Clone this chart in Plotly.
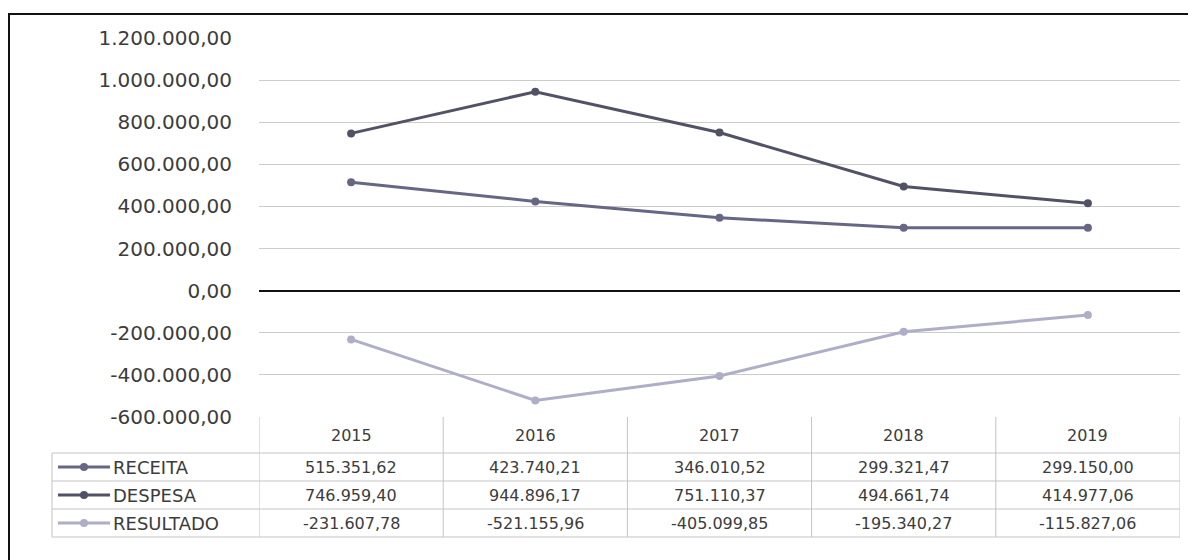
import plotly.graph_objects as go

anos = ["2015", "2016", "2017", "2018", "2019"]
receita = [515351.62, 423740.21, 346010.52, 299321.47, 299150.00]
despesa = [746959.40, 944896.17, 751110.37, 494661.74, 414977.06]
resultado = [-231607.78, -521155.96, -405099.85, -195340.27, -115827.06]

series = ["RECEITA", "DESPESA", "RESULTADO"]
cores = ["#666685", "#525266", "#aeaec8"]

tick_vals = [-600000, -400000, -200000, 0, 200000, 400000, 600000, 800000, 1000000, 1200000]
tick_txt = ["-600.000,00", "-400.000,00", "-200.000,00", "0,00", "200.000,00",
            "400.000,00", "600.000,00", "800.000,00", "1.000.000,00", "1.200.000,00"]

# a pagina tem margem de 8px no body, entao a figura e deslocada
OFF = 8
W, H = 1196 - OFF, 560 - OFF
L, R, T, B = 251, 16, 30, 143
pw, ph = W - L - R, H - T - B


def px(x):
    # coordenada da pagina -> paper
    return (x - OFF - L) / pw


def py(y):
    return (H - B - (y - OFF)) / ph


def fmt(v):
    s = f"{v:,.2f}"
    return s.replace(",", "#").replace(".", ",").replace("#", ".")


fig = go.Figure()
for nome, vals, cor in zip(series, [receita, despesa, resultado], cores):
    fig.add_trace(go.Scatter(x=anos, y=vals, name=nome, mode="lines+markers",
                             line=dict(color=cor, width=3),
                             marker=dict(color=cor, size=8)))

# tabela de dados abaixo do grafico
linha = "#c4c4c4"
topo, cab, alt = 417, 453, 28
fundo = cab + alt * 3
shapes = []
shapes.append(dict(type="line", xref="x", yref="paper", x0=-0.5, x1=4.5,
                   y0=py(cab), y1=py(cab), line=dict(color=linha, width=1)))
shapes.append(dict(type="line", xref="paper", yref="paper", x0=px(52), x1=0,
                   y0=py(cab), y1=py(cab), line=dict(color=linha, width=1)))
for i in range(1, 4):
    yy = py(cab + alt * i)
    shapes.append(dict(type="line", xref="paper", yref="paper", x0=px(52), x1=1,
                       y0=yy, y1=yy, line=dict(color=linha, width=1)))
for k in range(len(anos) + 1):
    shapes.append(dict(type="line", xref="x", yref="paper", x0=k - 0.5, x1=k - 0.5,
                       y0=py(topo), y1=py(fundo), line=dict(color=linha, width=1)))
shapes.append(dict(type="line", xref="paper", yref="paper", x0=px(52), x1=px(52),
                   y0=py(cab), y1=py(fundo), line=dict(color=linha, width=1)))

annotations = []
fonte = dict(family="DejaVu Sans", size=16, color="#3c3c3c")
for j, a in enumerate(anos):
    annotations.append(dict(x=j, xref="x", y=py((topo + cab) / 2), yref="paper",
                            text=a, showarrow=False, yanchor="middle", font=fonte))
for i, (nome, vals, cor) in enumerate(zip(series, [receita, despesa, resultado], cores)):
    yc = py(cab + alt * i + alt / 2)
    for j, v in enumerate(vals):
        annotations.append(dict(x=j, xref="x", y=yc, yref="paper", text=fmt(v),
                                showarrow=False, yanchor="middle", font=fonte))
    # chave da legenda
    shapes.append(dict(type="line", xref="paper", yref="paper", x0=px(58), x1=px(110),
                       y0=yc, y1=yc, line=dict(color=cor, width=3)))
    shapes.append(dict(type="circle", xref="paper", yref="paper", x0=px(80), x1=px(88),
                       y0=yc - 4 / ph, y1=yc + 4 / ph, fillcolor=cor, line=dict(width=0)))
    annotations.append(dict(x=px(111), xref="paper", y=yc, yref="paper", text=nome,
                            xanchor="left", yanchor="middle", showarrow=False,
                            font=dict(family="DejaVu Sans", size=18, color="#3c3c3c")))

# moldura
shapes.append(dict(type="rect", xref="paper", yref="paper", x0=px(9), x1=px(1210),
                   y0=py(575), y1=py(14), line=dict(color="#111111", width=2)))

fig.update_layout(
    width=W, height=H,
    margin=dict(l=L, r=R, t=T, b=B),
    paper_bgcolor="white", plot_bgcolor="white",
    showlegend=False,
    font=dict(family="DejaVu Sans", color="#3c3c3c"),
    shapes=shapes, annotations=annotations,
    xaxis=dict(type="category", range=[-0.5, 4.5], showticklabels=False,
               showgrid=False, zeroline=False, showline=False),
    yaxis=dict(range=[-600000, 1200000], tickvals=tick_vals, ticktext=tick_txt,
               tickfont=dict(size=20, color="#3c3c3c"), ticklabelstandoff=26,
               showgrid=True, gridcolor="#cccccc", gridwidth=1,
               zeroline=True, zerolinecolor="#111111", zerolinewidth=2,
               showline=False),
)

fig.write_html("out.html")
